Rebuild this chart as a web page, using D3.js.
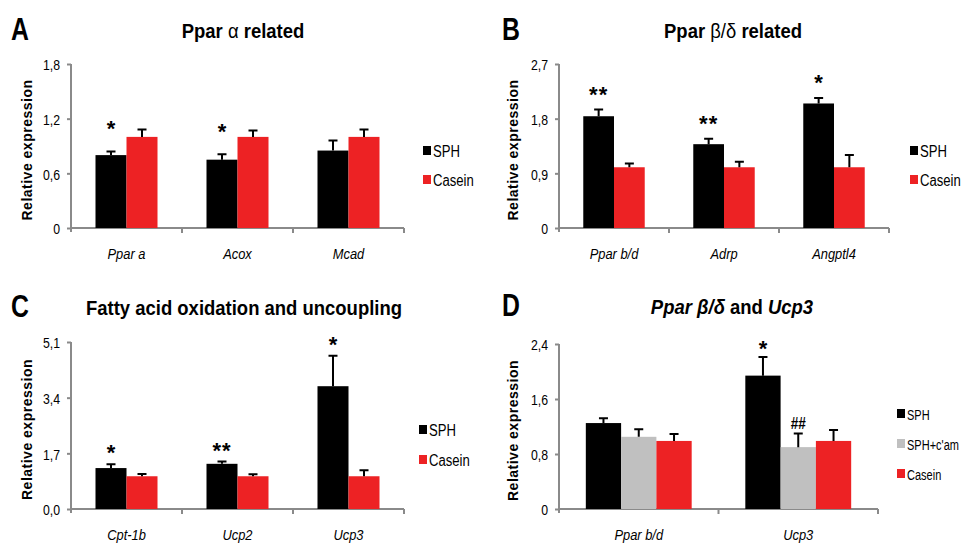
<!DOCTYPE html>
<html>
<head>
<meta charset="utf-8">
<script src="https://cdn.jsdelivr.net/npm/d3@7"></script>
<style>
body{margin:0;background:#fff}
text{font-family:"Liberation Sans",Arial,sans-serif}
</style>
</head>
<body>
<svg id="chart" width="961" height="544"></svg>
<script>
// series + colours
var seriesTwo = ["SPH", "Casein"];
var seriesThree = ["SPH", "SPH+c'am", "Casein"];
var colors = {"SPH": "#000000", "SPH+c'am": "#c0c0c0", "Casein": "#ed2224"};

// A - Ppar alpha related
var catsA = ["Ppar a", "Acox", "Mcad"];
var sphA = [0.80, 0.75, 0.85];
var sphErrA = [0.04, 0.06, 0.11];
var casA = [1.00, 1.00, 1.00];
var casErrA = [0.08, 0.07, 0.08];
var marksA = [["*", ""], ["*", ""], ["", ""]];
var ticksA = [0, 0.6, 1.2, 1.8];
var tickLabelsA = ["0", "0,6", "1,2", "1,8"];

// B - Ppar beta/delta related
var catsB = ["Ppar b/d", "Adrp", "Angptl4"];
var sphB = [1.84, 1.38, 2.05];
var sphErrB = [0.11, 0.09, 0.09];
var casB = [1.00, 1.00, 1.00];
var casErrB = [0.06, 0.09, 0.20];
var marksB = [["**", ""], ["**", ""], ["*", ""]];
var ticksB = [0, 0.9, 1.8, 2.7];
var tickLabelsB = ["0", "0,9", "1,8", "2,7"];

// C - fatty acid oxidation and uncoupling
var catsC = ["Cpt-1b", "Ucp2", "Ucp3"];
var sphC = [1.25, 1.38, 3.75];
var sphErrC = [0.12, 0.07, 0.93];
var casC = [1.00, 1.00, 1.00];
var casErrC = [0.07, 0.06, 0.18];
var marksC = [["*", ""], ["**", ""], ["*", ""]];
var ticksC = [0, 1.7, 3.4, 5.1];
var tickLabelsC = ["0,0", "1,7", "3,4", "5,1"];

// D - Ppar beta/delta and Ucp3
var catsD = ["Ppar b/d", "Ucp3"];
var sphD = [1.25, 1.94];
var sphErrD = [0.07, 0.27];
var camD = [1.05, 0.90];
var camErrD = [0.11, 0.20];
var casD = [0.99, 0.99];
var casErrD = [0.10, 0.16];
var marksD = [["", "", ""], ["*", "##", ""]];
var ticksD = [0, 0.8, 1.6, 2.4];
var tickLabelsD = ["0", "0,8", "1,6", "2,4"];

var svg = d3.select("#chart");
var axisColor = "#8a8a8a";
var narrow = 0.83; // no Arial Narrow here, squeeze the glyphs instead

function squeeze(x, y, sx) {
    return "translate(" + x + "," + y + ") scale(" + (sx || narrow) + ",1)";
}

function drawPanel(p) {
    var g = svg.append("g");
    var y = d3.scaleLinear().domain([0, p.ticks[p.ticks.length - 1]]).range([p.y1, p.y0]);
    var x = d3.scaleBand().domain(p.cats).range([p.x0, p.x1]);
    var xs = d3.scaleBand().domain(p.series).range([0, x.bandwidth()]).paddingOuter(p.pad);

    // panel letter + title
    g.append("text").attr("transform", squeeze(p.lx, p.ly, 0.8))
        .style("font-size", "31px").style("font-weight", "bold").text(p.letter);
    var t = g.append("text").attr("transform", squeeze(p.tx, p.ty, 0.88)).attr("text-anchor", "middle")
        .style("font-size", "21px").style("font-weight", "bold");
    p.title.forEach(function(s) {
        t.append("tspan").text(s.text)
            .style("font-style", s.italic ? "italic" : "normal")
            .style("font-weight", s.greek ? "normal" : "bold");
    });

    // y axis
    var yAxis = d3.axisLeft(y).tickValues(p.ticks).tickSize(4).tickPadding(6)
        .tickFormat(function(d, i) { return p.tickLabels[i]; });
    var ya = g.append("g").attr("transform", "translate(" + p.x0 + ",0)").call(yAxis);
    ya.select(".domain").attr("stroke", axisColor).attr("stroke-width", 2)
        .attr("d", "M0," + p.y0 + "V" + (p.y1 + 4));
    ya.selectAll(".tick line").attr("stroke", axisColor).attr("stroke-width", 2);
    ya.selectAll(".tick text").attr("x", null).attr("transform", squeeze(-11, 1, 0.82))
        .style("font-size", "15px").attr("fill", "#000")
        .style("font-family", "'Liberation Sans',Arial,sans-serif");

    // x axis (ticks at category boundaries)
    var bounds = p.cats.map(function(c) { return x(c); }).concat([p.x1]);
    g.append("line").attr("x1", p.x0).attr("x2", p.x1).attr("y1", p.y1).attr("y2", p.y1)
        .attr("stroke", axisColor).attr("stroke-width", 2);
    g.selectAll(".xt").data(bounds.slice(1)).enter().append("line")
        .attr("x1", function(d) { return d; }).attr("x2", function(d) { return d; })
        .attr("y1", p.y1).attr("y2", p.y1 + 5)
        .attr("stroke", axisColor).attr("stroke-width", 2);
    g.selectAll(".xl").data(p.cats).enter().append("text")
        .attr("transform", function(d) { return squeeze(x(d) + x.bandwidth() / 2, p.y1 + 31, 0.86); })
        .attr("text-anchor", "middle")
        .style("font-size", "15px").style("font-style", "italic").text(function(d) { return d; });

    // y label
    g.append("text").attr("transform", "translate(" + p.yx + "," + ((p.y0 + p.y1) / 2 + 4) + ") rotate(-90)")
        .attr("text-anchor", "middle")
        .style("font-size", "14px").style("font-weight", "bold").style("letter-spacing", "0.5px")
        .text("Relative expression");

    // bars
    var rows = [];
    p.cats.forEach(function(c, i) {
        p.series.forEach(function(s, j) {
            rows.push({cat: c, s: s, v: p.values[j][i], e: p.errors[j][i], m: p.marks[i][j]});
        });
    });
    var bx = function(d) { return x(d.cat) + xs(d.s); };
    g.selectAll(".bar").data(rows).enter().append("rect")
        .attr("x", bx).attr("width", xs.bandwidth())
        .attr("y", function(d) { return y(d.v); })
        .attr("height", function(d) { return y(0) - y(d.v); })
        .attr("fill", function(d) { return colors[d.s]; });

    // error bars (upper only)
    g.selectAll(".eb").data(rows).enter().append("path")
        .attr("d", function(d) {
            var cx = bx(d) + xs.bandwidth() / 2, top = y(d.v + d.e);
            return "M" + cx + "," + y(d.v) + "V" + top + "M" + (cx - 4.5) + "," + top + "H" + (cx + 4.5);
        })
        .attr("stroke", "#000").attr("stroke-width", 2).attr("fill", "none");

    // significance marks
    var mk = rows.filter(function(d) { return d.m; });
    g.selectAll(".mk").data(mk).enter().append("text")
        .attr("transform", function(d) {
            var cx = bx(d) + xs.bandwidth() / 2, top = y(d.v + d.e);
            if (d.m === "##") return squeeze(cx, top - 4, 0.85);
            return "translate(" + cx + "," + (top - p.markGap + 12) + ")";
        })
        .attr("text-anchor", "middle")
        .style("font-size", function(d) { return d.m === "##" ? "16px" : "22px"; })
        .style("font-weight", "bold")
        .style("letter-spacing", function(d) { return d.m === "**" ? "1px" : null; })
        .text(function(d) { return d.m; });

    // legend
    var leg = g.selectAll(".lg").data(p.series).enter().append("g")
        .attr("transform", function(d, i) { return "translate(" + (p.x1 + p.legDx) + "," + (p.legY + i * p.legStep) + ")"; });
    leg.append("rect").attr("x", 0).attr("y", -5).attr("width", 8).attr("height", 9)
        .attr("fill", function(d) { return colors[d]; });
    leg.append("text").attr("transform", squeeze(10, 5.5, p.legSx))
        .style("font-size", p.legFont).text(function(d) { return d; });
}

drawPanel({
    letter: "A", lx: 11, ly: 40, tx: 243, ty: 38,
    title: [{text: "Ppar "}, {text: "α", greek: true}, {text: " related"}],
    x0: 71, x1: 404, y0: 64, y1: 228, yx: 32, pad: 0.79, markGap: 27,
    cats: catsA, series: seriesTwo, values: [sphA, casA], errors: [sphErrA, casErrA],
    marks: marksA, ticks: ticksA, tickLabels: tickLabelsA,
    legDx: 19, legY: 151, legStep: 29, legFont: "16px", legSx: 0.82
});

drawPanel({
    letter: "B", lx: 502, ly: 40, tx: 733, ty: 38,
    title: [{text: "Ppar "}, {text: "β/δ", greek: true}, {text: " related"}],
    x0: 559, x1: 889, y0: 64, y1: 228, yx: 518, pad: 0.79, markGap: 20,
    cats: catsB, series: seriesTwo, values: [sphB, casB], errors: [sphErrB, casErrB],
    marks: marksB, ticks: ticksB, tickLabels: tickLabelsB,
    legDx: 21, legY: 151, legStep: 29, legFont: "16px", legSx: 0.82
});

drawPanel({
    letter: "C", lx: 11, ly: 317, tx: 244, ty: 315,
    title: [{text: "Fatty acid oxidation and uncoupling"}],
    x0: 71, x1: 404, y0: 342, y1: 509, yx: 32, pad: 0.79, markGap: 16,
    cats: catsC, series: seriesTwo, values: [sphC, casC], errors: [sphErrC, casErrC],
    marks: marksC, ticks: ticksC, tickLabels: tickLabelsC,
    legDx: 15, legY: 430, legStep: 30, legFont: "16px", legSx: 0.82
});

drawPanel({
    letter: "D", lx: 502, ly: 316, tx: 732, ty: 314,
    title: [{text: "Ppar β/δ", italic: true}, {text: " and "}, {text: "Ucp3", italic: true}],
    x0: 559, x1: 878, y0: 344, y1: 509, yx: 518, pad: 0.76, markGap: 13,
    cats: catsD, series: seriesThree, values: [sphD, camD, casD], errors: [sphErrD, camErrD, casErrD],
    marks: marksD, ticks: ticksD, tickLabels: tickLabelsD,
    legDx: 19, legY: 414, legStep: 30, legFont: "14.5px", legSx: 0.76
});
</script>
</body>
</html>
